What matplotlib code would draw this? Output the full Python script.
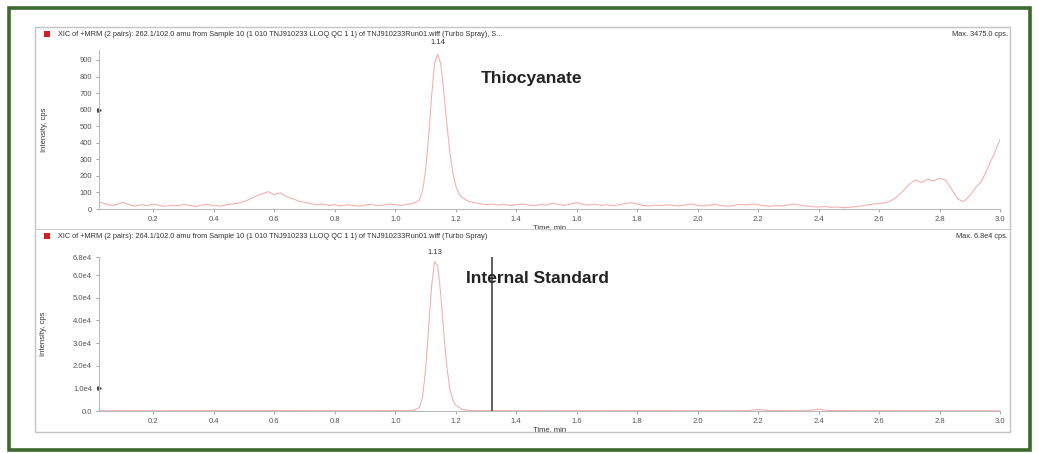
import matplotlib
matplotlib.use("Agg")
import matplotlib.pyplot as plt
from matplotlib.patches import Rectangle

plt.rcParams['font.family'] = ['Liberation Sans', 'DejaVu Sans']

# ---------------- data ----------------
top_time = [0.02, 0.04, 0.06, 0.08, 0.10, 0.12, 0.14, 0.16, 0.18, 0.20, 0.22, 0.24, 0.26, 0.28, 0.30,
            0.32, 0.34, 0.36, 0.38, 0.40, 0.42, 0.44, 0.46, 0.48, 0.50, 0.52, 0.54, 0.56, 0.58, 0.60,
            0.62, 0.64, 0.66, 0.68, 0.70, 0.72, 0.74, 0.76, 0.78, 0.80, 0.82, 0.84, 0.86, 0.88, 0.90,
            0.92, 0.94, 0.96, 0.98, 1.00, 1.02, 1.04, 1.06, 1.08, 1.09, 1.10, 1.11, 1.12, 1.13, 1.14,
            1.15, 1.16, 1.17, 1.18, 1.19, 1.20, 1.21, 1.22, 1.24, 1.26, 1.28, 1.30, 1.32, 1.34, 1.36,
            1.38, 1.40, 1.42, 1.44, 1.46, 1.48, 1.50, 1.52, 1.54, 1.56, 1.58, 1.60, 1.62, 1.64, 1.66,
            1.68, 1.70, 1.72, 1.74, 1.76, 1.78, 1.80, 1.82, 1.84, 1.86, 1.88, 1.90, 1.92, 1.94, 1.96,
            1.98, 2.00, 2.02, 2.04, 2.06, 2.08, 2.10, 2.12, 2.14, 2.16, 2.18, 2.20, 2.22, 2.24, 2.26,
            2.28, 2.30, 2.32, 2.34, 2.36, 2.38, 2.40, 2.42, 2.44, 2.46, 2.48, 2.50, 2.52, 2.54, 2.56,
            2.58, 2.60, 2.62, 2.64, 2.66, 2.68, 2.70, 2.72, 2.74, 2.76, 2.78, 2.80, 2.82, 2.84, 2.86,
            2.88, 2.90, 2.92, 2.94, 2.96, 2.98, 3.00]
top_int = [45, 30, 22, 28, 40, 25, 18, 26, 20, 30, 22, 16, 24, 19, 27,
           21, 15, 23, 28, 20, 17, 25, 30, 35, 45, 60, 78, 92, 105, 86,
           98, 74, 62, 48, 40, 32, 26, 30, 22, 25, 19, 26, 21, 17, 24,
           28, 20, 23, 30, 26, 22, 28, 34, 55, 110, 230, 430, 680, 880, 935,
           880, 720, 520, 350, 220, 140, 95, 70, 48, 38, 32, 26, 30, 24, 28,
           22, 26, 30, 24, 20, 27, 23, 35, 28, 22, 30, 38, 28, 24, 30,
           22, 26, 20, 25, 32, 38, 30, 22, 18, 24, 20, 26, 22, 18, 25,
           30, 22, 18, 24, 28, 20, 16, 22, 28, 24, 30, 26, 20, 16, 22,
           18, 25, 30, 22, 18, 14, 12, 16, 10, 12, 8, 10, 14, 18, 24,
           30, 32, 38, 50, 75, 110, 150, 175, 160, 180, 170, 185, 175, 120, 60,
           45, 80, 130, 170, 250, 330, 420]

bot_time = [0.02, 0.20, 0.40, 0.60, 0.80, 1.00, 1.06, 1.08, 1.09, 1.10, 1.11, 1.12, 1.13, 1.14,
            1.15, 1.16, 1.17, 1.18, 1.19, 1.20, 1.22, 1.24, 1.30, 1.50, 1.80, 2.10, 2.17, 2.20,
            2.23, 2.36, 2.40, 2.43, 2.60, 2.80, 3.00]
bot_int = [150, 120, 180, 200, 150, 180, 300, 1500, 6000, 18000, 36000, 55000, 66000, 64000,
           52000, 35000, 20000, 10000, 5000, 2500, 800, 300, 150, 120, 150, 120, 200, 700,
           200, 150, 800, 200, 150, 120, 100]

top_yticks = [0, 100, 200, 300, 400, 500, 600, 700, 800, 900]
bot_yticks = [0, 10000, 20000, 30000, 40000, 50000, 60000, 68000]
bot_yticklabels = ['0.0', '1.0e4', '2.0e4', '3.0e4', '4.0e4', '5.0e4', '6.0e4', '6.8e4']
xticks = [0.2, 0.4, 0.6, 0.8, 1.0, 1.2, 1.4, 1.6, 1.8, 2.0, 2.2, 2.4, 2.6, 2.8, 3.0]

top_peak = (1.14, '1.14')
bot_peak = (1.13, '1.13')
is_line_time = 1.32
top_marker_y = 600
bot_marker_y = 10000

top_header = ("XIC of +MRM (2 pairs): 262.1/102.0 amu from Sample 10 (1 010 TNJ910233 LLOQ QC 1 1) "
              "of TNJ910233Run01.wiff (Turbo Spray), S...")
bot_header = ("XIC of +MRM (2 pairs): 264.1/102.0 amu from Sample 10 (1 010 TNJ910233 LLOQ QC 1 1) "
              "of TNJ910233Run01.wiff (Turbo Spray)")
top_max = "Max. 3475.0 cps."
bot_max = "Max. 6.8e4 cps."

# ---------------- layout ----------------
W, H = 1039, 453
fig = plt.figure(figsize=(W / 100, H / 100), dpi=100)
fig.patch.set_facecolor('white')

def fx(px):
    return px / W

def fy(py):
    return 1 - py / H

# green outer frame
fig.patches.append(Rectangle((fx(9), fy(450)), fx(1030) - fx(9), fy(8) - fy(450),
                             transform=fig.transFigure, fill=False, edgecolor='#3b6a2c',
                             linewidth=2.6))
# inner grey box
fig.patches.append(Rectangle((fx(35), fy(432)), fx(1010) - fx(35), fy(27) - fy(432),
                             transform=fig.transFigure, fill=False, edgecolor='#c4c4c4',
                             linewidth=1.0))
# separator line between panels
fig.lines.append(plt.Line2D([fx(35), fx(1010)], [fy(229), fy(229)], transform=fig.transFigure,
                            color='#cccccc', linewidth=0.8))

trace_color = '#f6b0b0'
text_color = '#333333'
tick_color = '#555555'

x_left, x_right = 99, 1000

def setup_axes(ax):
    ax.set_xlim(0.02, 3.0)
    for s in ['top', 'right']:
        ax.spines[s].set_visible(False)
    for s in ['left', 'bottom']:
        ax.spines[s].set_color('#bbbbbb')
        ax.spines[s].set_linewidth(0.8)
    ax.set_xticks(xticks)
    ax.set_xticklabels([f'{v:.1f}' for v in xticks])
    ax.tick_params(axis='both', labelsize=5.5, colors='#999999', labelcolor=tick_color,
                   length=2, width=0.6, pad=3)
    ax.set_facecolor('white')

# top axes
ax1 = fig.add_axes([fx(x_left), fy(209), fx(x_right) - fx(x_left), fy(50) - fy(209)])
ax1.plot(top_time, top_int, color=trace_color, linewidth=0.8)
ax1.set_ylim(0, 960)
ax1.set_yticks(top_yticks)
setup_axes(ax1)
ax1.set_xlabel('Time, min', fontsize=5.5, color=text_color, labelpad=1)
ax1.set_ylabel('Intensity, cps', fontsize=5.5, color=text_color, labelpad=23)
ax1.text(top_peak[0], 985, top_peak[1], fontsize=5.5, color=text_color, ha='center', va='bottom',
         clip_on=False)
ax1.text(1.45, 785, 'Thiocyanate', fontsize=12.5, fontweight='bold', color='#222222',
         ha='center', va='center')
ax1.plot([0.02], [top_marker_y], marker='>', markersize=2.5, color='#444444', clip_on=False)

# bottom axes
ax2 = fig.add_axes([fx(x_left), fy(411), fx(x_right) - fx(x_left), fy(257) - fy(411)])
ax2.plot(bot_time, bot_int, color=trace_color, linewidth=0.8)
ax2.set_ylim(0, 68000)
ax2.set_yticks(bot_yticks)
ax2.set_yticklabels(bot_yticklabels)
setup_axes(ax2)
ax2.axvline(is_line_time, color='#444444', linewidth=1.2)
ax2.set_xlabel('Time, min', fontsize=5.5, color=text_color, labelpad=1)
ax2.set_ylabel('Intensity, cps', fontsize=5.5, color=text_color, labelpad=19)
ax2.text(bot_peak[0], 68500, bot_peak[1], fontsize=5.5, color=text_color, ha='center',
         va='bottom', clip_on=False)
ax2.text(1.47, 58500, 'Internal Standard', fontsize=12.5, fontweight='bold', color='#222222',
         ha='center', va='center')
ax2.plot([0.02], [bot_marker_y], marker='>', markersize=2.5, color='#444444', clip_on=False)

# headers
for py, hdr, mx in [(34, top_header, top_max), (236, bot_header, bot_max)]:
    fig.patches.append(Rectangle((fx(44), fy(py + 2.5)), fx(6), fy(0) - fy(5),
                                 transform=fig.transFigure, facecolor='#d42020',
                                 edgecolor='none'))
    fig.text(fx(58), fy(py), hdr, fontsize=5.3, color=text_color, ha='left', va='center')
    fig.text(fx(1008), fy(py), mx, fontsize=5.3, color=text_color, ha='right', va='center')

fig.savefig('out.png', dpi=100, facecolor='white')
